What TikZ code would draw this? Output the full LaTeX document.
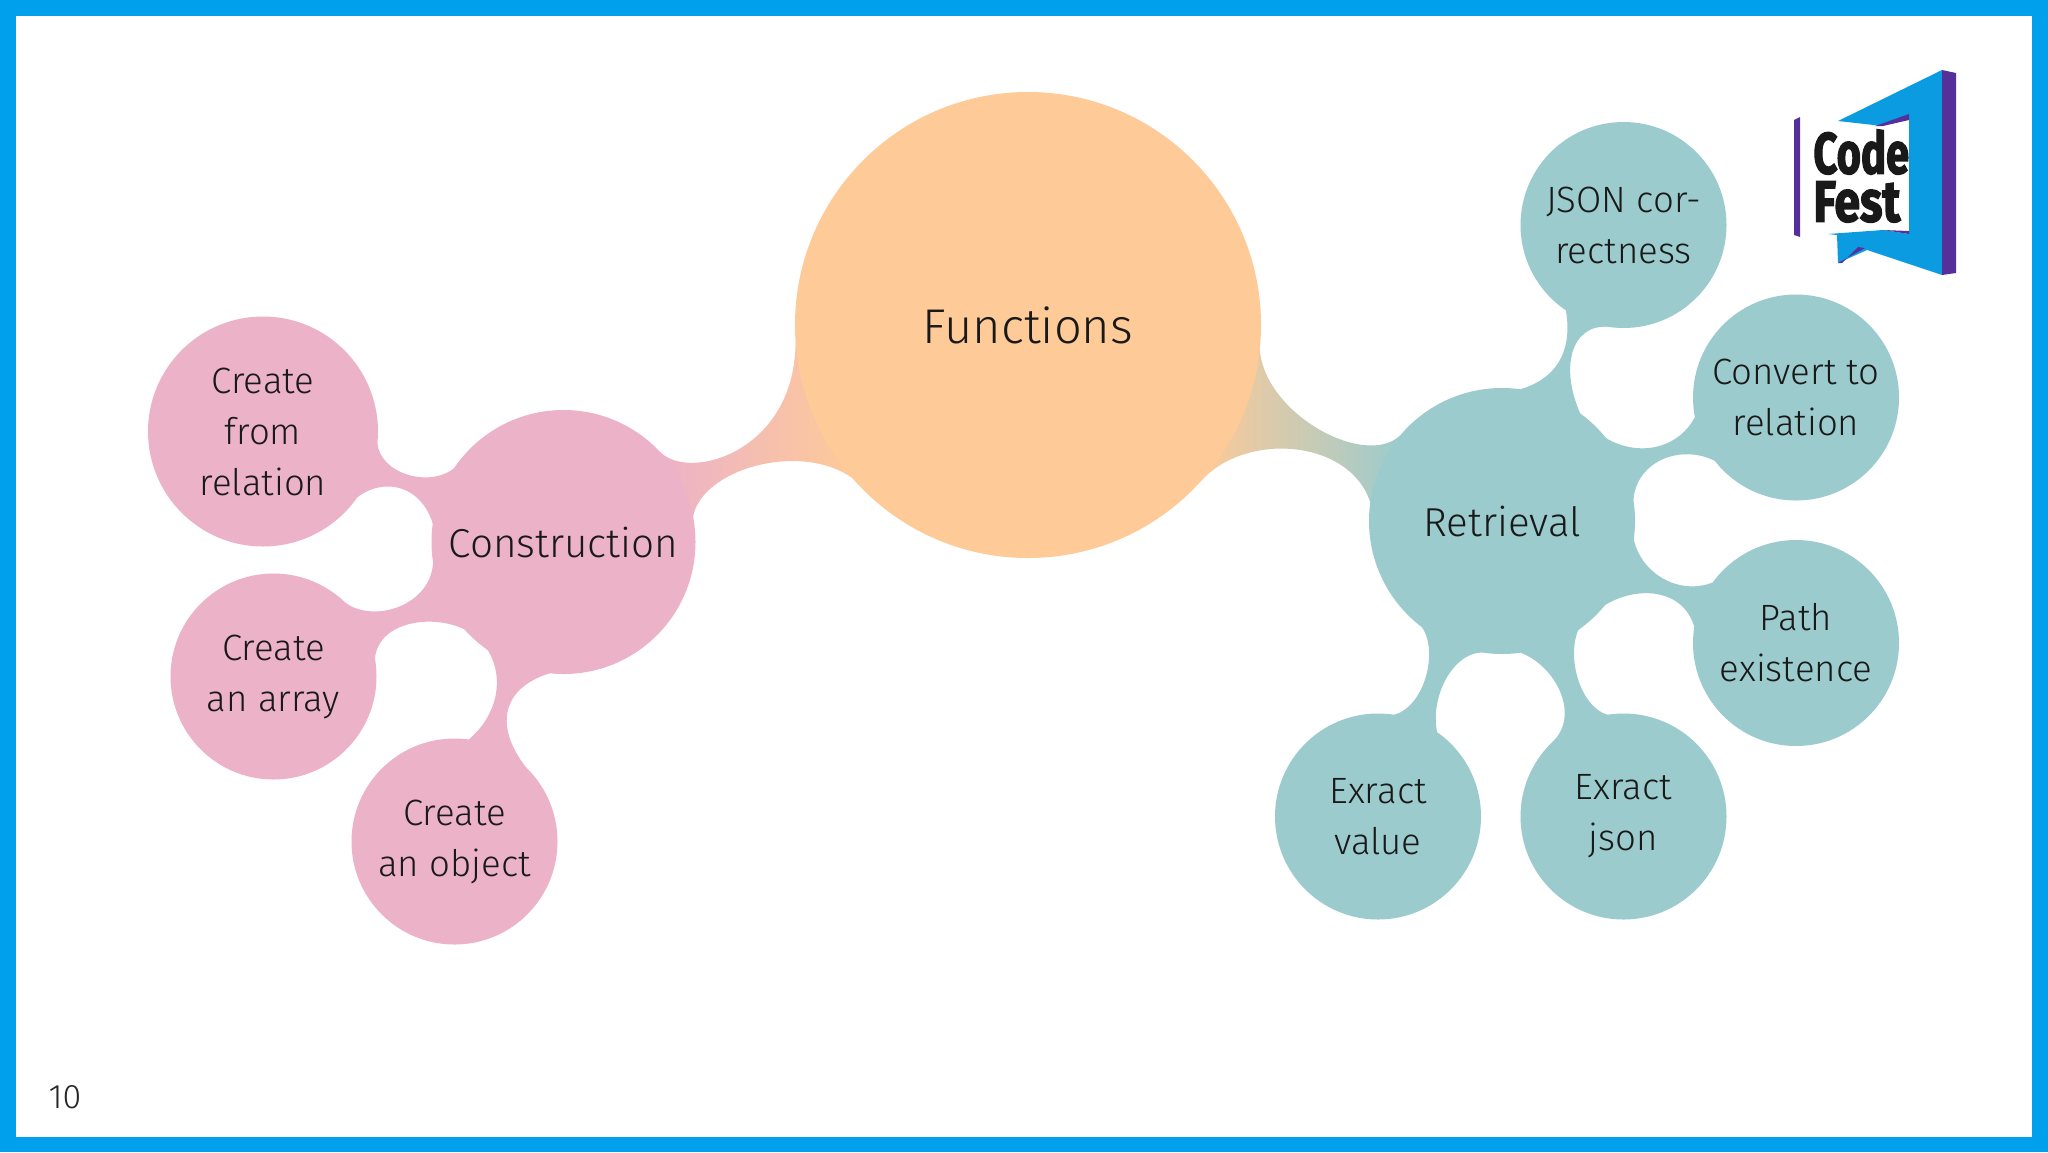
\documentclass[tikz,border=0pt]{standalone}
\usepackage{fontspec}
\setmainfont{Fira Sans Light}
\newfontfamily\logofont[FakeBold=2.5]{Fira Sans Bold}
\usetikzlibrary{backgrounds}
\definecolor{framecol}{HTML}{00A0EC}
\definecolor{fnorange}{HTML}{FDCA98}
\definecolor{conpink}{HTML}{ECB2C8}
\definecolor{retteal}{HTML}{9CCBCD}
\definecolor{logoblue}{HTML}{0A9BE0}
\definecolor{logopurple}{HTML}{56309A}
\tikzset{
  bubble/.style={circle,inner sep=0pt,outer sep=0pt,align=center,text=black!90,font=\fontsize{18.3}{25.5}\selectfont},
  bigbubble/.style={bubble,font=\fontsize{20.2}{26}\selectfont}
}
\begin{document}
\begin{tikzpicture}[x=0.5pt,y=-0.5pt]
  \useasboundingbox (0,0) rectangle (2048,1152);

  \node[bubble,fill=fnorange,minimum size=233pt,font=\fontsize{24.4}{29}\selectfont] (fn) at (1028,325) {Functions};
  \node[bigbubble,fill=conpink,minimum size=132pt] (con) at (563.5,542) {Construction};
  \node[bigbubble,fill=retteal,minimum size=133pt] (ret) at (1502,521) {Retrieval};

  \node[bubble,fill=conpink,minimum size=115pt] (relation) at (263,431.5) {Create\\from\\relation};
  \node[bubble,fill=conpink,minimum size=103pt] (array) at (273.5,676.5) {Create\\an array};
  \node[bubble,fill=conpink,minimum size=103pt] (object) at (454.5,841.5) {Create\\an object};

  \node[bubble,fill=retteal,minimum size=103pt] (json) at (1623.5,225) {JSON cor-\\rectness};
  \node[bubble,fill=retteal,minimum size=103pt] (convert) at (1796,397.5) {Convert to\\relation};
  \node[bubble,fill=retteal,minimum size=103pt] (path) at (1796,643) {Path\\existence};
  \node[bubble,fill=retteal,minimum size=103pt] (exjson) at (1623.5,816.5) {Exract\\json};
  \node[bubble,fill=retteal,minimum size=103pt] (exvalue) at (1378,816.5) {Exract\\value};

  \begin{scope}[on background layer]
    \fill[framecol] (0,0) rectangle (2048,1152);
    \fill[white] (16,16) rectangle (2032,1137);

    \shade[left color=conpink,right color=fnorange] (fn.184) .. controls +(0,110) and +(30,30) .. (con.43) -- (con.11) .. controls +(8,-47) and +(-53,-37) .. (fn.221) -- cycle;
    \shade[left color=fnorange,right color=retteal] (fn.354) .. controls +(5,65) and +(-35,33) .. (ret.140) -- (ret.172) .. controls +(-20,-63) and +(45,-50) .. (fn.318) -- cycle;

    \fill[conpink] (relation.354) .. controls +(3,30) and +(-25,20) .. (con.146) -- (con.172) .. controls +(-15,-48) and +(25,-42) .. (relation.312) -- cycle;
    \fill[conpink] (con.189) .. controls +(-3,47) and +(25,28) .. (array.50) -- (array.10) .. controls +(4,-47) and +(-22,-40) .. (con.235) -- cycle;
    \fill[conpink] (con.235) .. controls +(18,30) and +(27,-23) .. (object.82) -- (object.37) .. controls +(-42,-43) and +(-55,17) .. (con.264) -- cycle;

    \fill[retteal] (ret.82) .. controls +(45,-14) and +(5,30) .. (json.236) -- (json.261) .. controls +(-37,-2) and +(-20,-45) .. (ret.54) -- cycle;
    \fill[retteal] (ret.54) .. controls +(30,45) and +(-23,43) .. (convert.191) -- (convert.218) .. controls +(-33,-17) and +(3,-40) .. (ret.9) -- cycle;
    \fill[retteal] (ret.352) .. controls +(8,35) and +(-33,13) .. (path.144) -- (path.171) .. controls +(-13,-47) and +(33,-47) .. (ret.305) -- cycle;
    \fill[retteal] (ret.278) .. controls +(35,13) and +(27,-27) .. (exjson.133) -- (exjson.99) .. controls +(-27,-8) and +(-12,28) .. (ret.305) -- cycle;
    \fill[retteal] (ret.233) .. controls +(17,25) and +(30,-8) .. (exvalue.81) -- (exvalue.55) .. controls +(-7,-34) and +(-30,2) .. (ret.261) -- cycle;
  \end{scope}

  \node[font=\fontsize{17}{19}\selectfont,text=black!85] (pagenum) at (65,1097) {10};

  \fill[logoblue] (1942,70) -- (1942,275) -- (1867,250) -- (1838,263) -- (1837,235) -- (1828,234) -- (1883,230) -- (1909,234) -- (1909,115) -- (1883,126) -- (1838,121) -- cycle;
  \fill[logopurple] (1942,70) -- (1956,73) -- (1956,273) -- (1942,275) -- cycle;
  \fill[logopurple] (1794,120) -- (1800,117) -- (1800,237) -- (1794,235) -- cycle;
  \fill[logopurple] (1875,126) -- (1909,114) -- (1909,120) -- (1883,126) -- cycle;
  \fill[logopurple] (1883,230) -- (1909,231) -- (1909,234) -- cycle;
  \fill[logopurple] (1838,263) -- (1865,248) -- (1858,247) -- (1842,263) -- cycle;
  \node[inner sep=0pt,anchor=west,align=left,text=black!90,font=\logofont\fontsize{29}{24}\selectfont] (logotxt) at (1813,176) {\scalebox{0.72}[1]{Code}\\\scalebox{0.8}[1]{Fest}};
\end{tikzpicture}
\end{document}
